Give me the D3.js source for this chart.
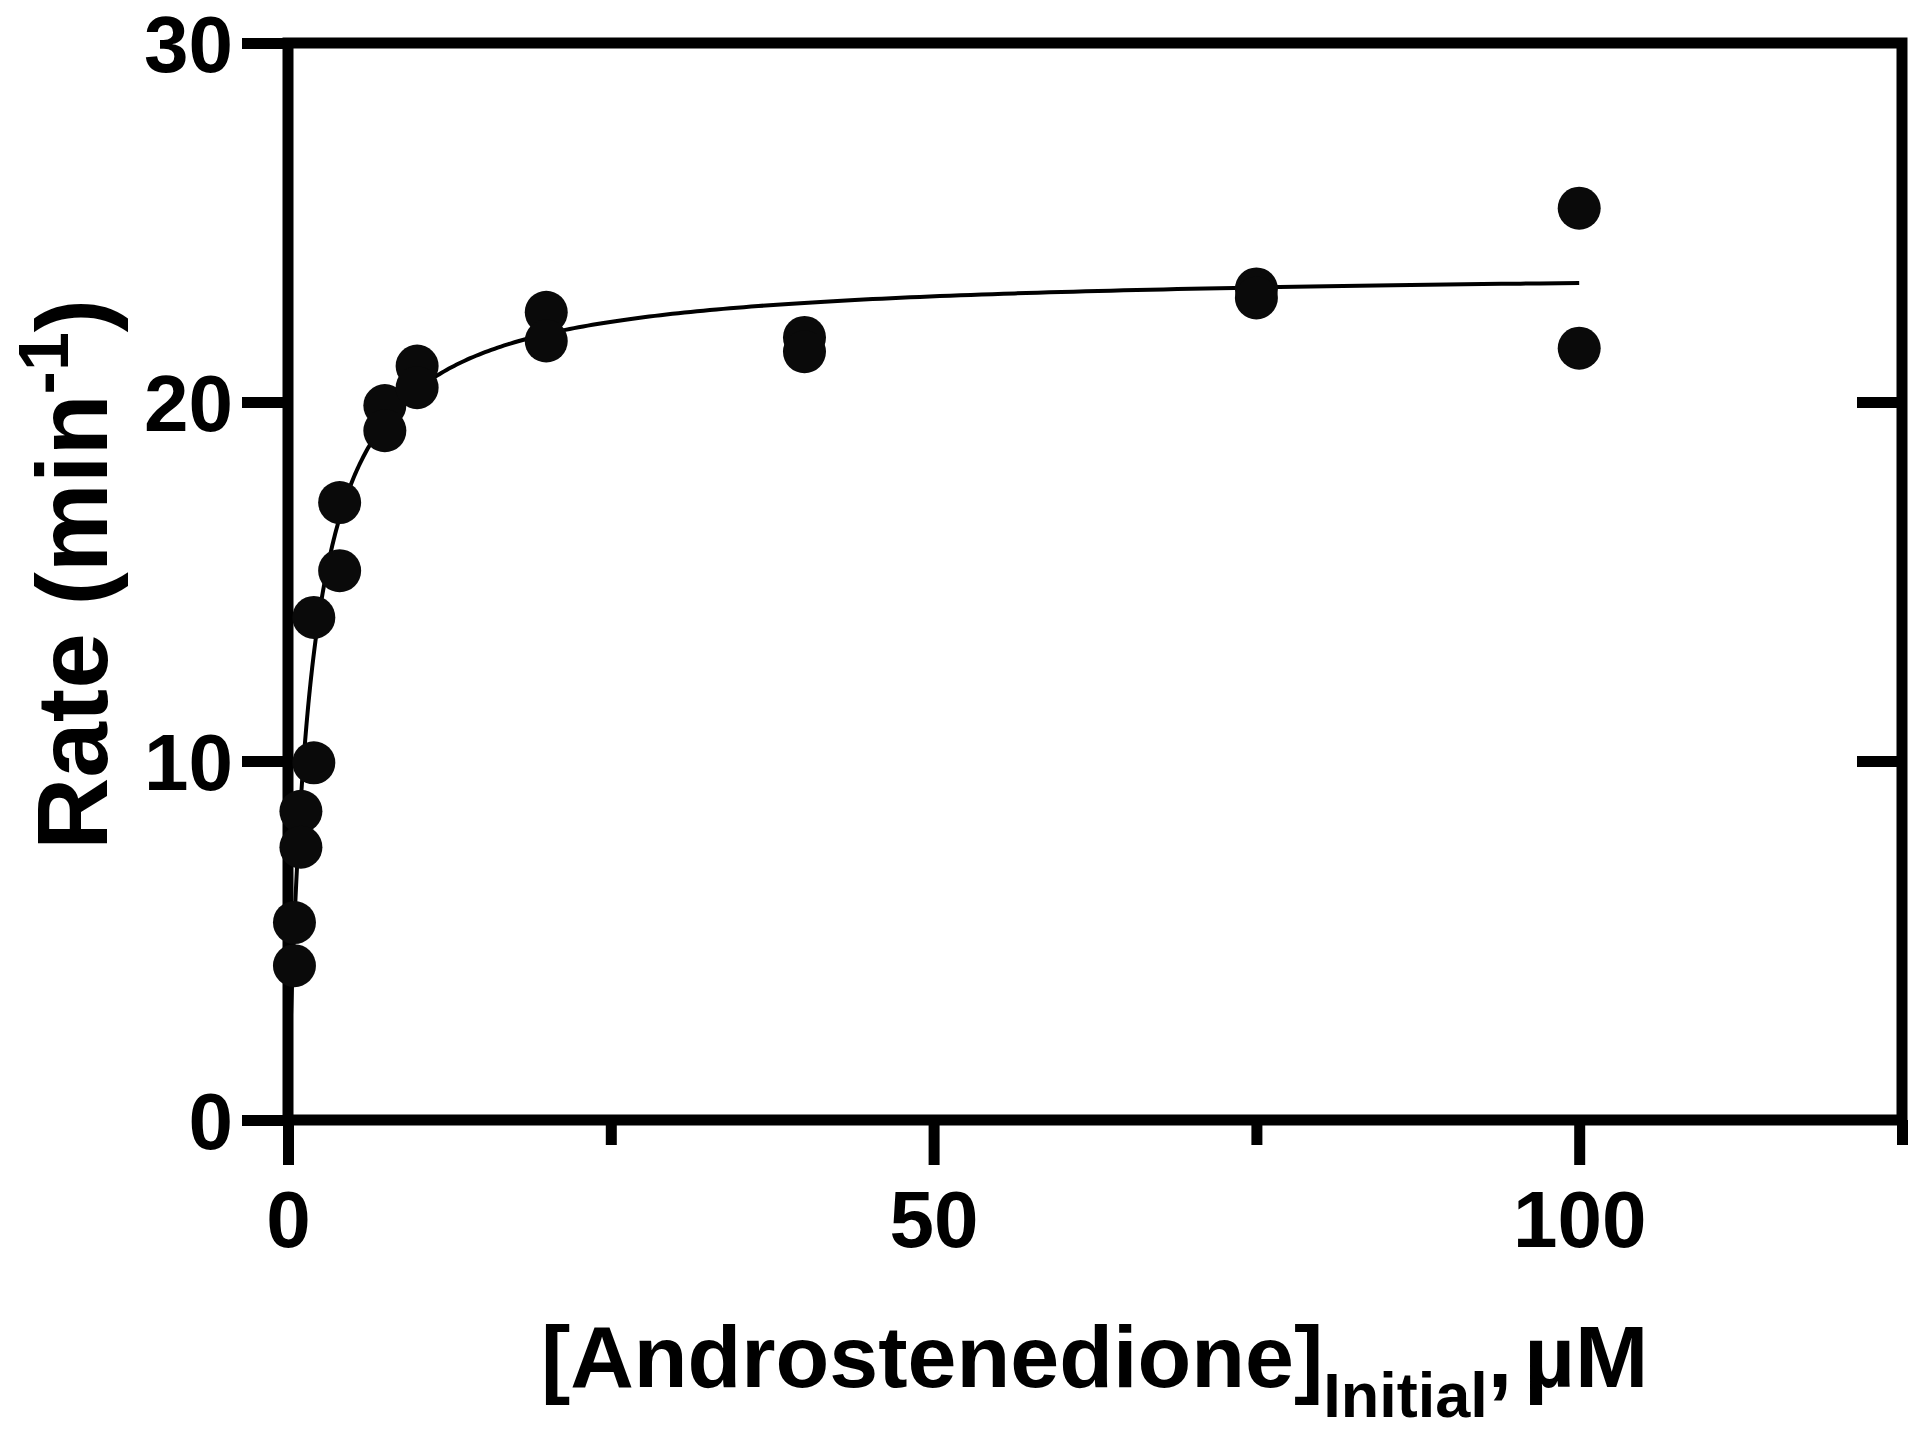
<!DOCTYPE html>
<html>
<head>
<meta charset="utf-8">
<script src="https://cdn.jsdelivr.net/npm/d3@7"></script>
<style>
  body { margin: 0; background: #fff; }
  text { font-family: "Liberation Sans", Arial, sans-serif; font-weight: bold; fill: #000; }
</style>
</head>
<body>
<div id="chart"></div>
<script>
// substrate concentration (uM) and measured rate (min^-1), duplicates
const concentration = [0.5, 0.5, 1, 1, 2, 2, 4, 4, 7.5, 7.5, 10, 10, 20, 20, 40, 40, 75, 75, 100, 100];
const rate = [5.5, 4.3, 8.6, 7.6, 9.95, 14.0, 17.2, 15.3, 19.9, 19.2, 21.0, 20.4, 22.5, 21.7, 21.8, 21.4, 23.15, 22.9, 25.4, 21.5];

// Michaelis-Menten fit parameters
const vmax = 23.7;
const km = 1.65;
const fitRange = [0.2, 100];

const xMajorTicks = [0, 50, 100];
const xMinorTicks = [25, 75, 125];
const yTicks = [0, 10, 20, 30];
const rightTicks = [10, 20];

const width = 1920;
const height = 1430;
const margin = { top: 43, right: 18, bottom: 310, left: 288 };
const innerWidth = width - margin.left - margin.right;
const innerHeight = height - margin.top - margin.bottom;
const axisWidth = 11;

const points = concentration.map((c, i) => ({ x: c, y: rate[i] }));

const xScale = d3.scaleLinear().domain([0, 125]).range([0, innerWidth]);
const yScale = d3.scaleLinear().domain([0, 30]).range([innerHeight, 0]);

const svg = d3.select('#chart')
  .append('svg')
  .attr('width', width)
  .attr('height', height);

const g = svg.append('g')
  .attr('transform', `translate(${margin.left},${margin.top})`);

// fitted curve
const fitX = d3.range(0, 401).map(i => fitRange[0] * Math.pow(fitRange[1] / fitRange[0], i / 400));
const fit = fitX.map(x => ({ x: x, y: vmax * x / (km + x) }));

const line = d3.line()
  .x(d => xScale(d.x))
  .y(d => yScale(d.y));

g.append('path')
  .datum(fit)
  .attr('d', line)
  .style('fill', 'none')
  .style('stroke', '#000')
  .style('stroke-width', 4);

// axes
function styleAxis(sel, labels) {
  sel.select('.domain').remove();
  sel.selectAll('.tick line').style('stroke', '#000').style('stroke-width', axisWidth);
  if (labels) {
    sel.selectAll('.tick text').style('font-size', '80px').style('fill', '#000');
  } else {
    sel.selectAll('.tick text').remove();
  }
}

const yAxis = g.append('g')
  .call(d3.axisLeft(yScale).tickValues(yTicks).tickSize(46).tickPadding(9).tickFormat(d3.format('d')));
styleAxis(yAxis, true);
yAxis.selectAll('.tick text').attr('dy', null).attr('y', 28);

const xAxis = g.append('g')
  .attr('transform', `translate(0,${innerHeight})`)
  .call(d3.axisBottom(xScale).tickValues(xMajorTicks).tickSize(45).tickPadding(22).tickFormat(d3.format('d')));
styleAxis(xAxis, true);
xAxis.selectAll('.tick text').attr('dy', null).attr('y', 127);

const xMinor = g.append('g')
  .attr('transform', `translate(0,${innerHeight})`)
  .call(d3.axisBottom(xScale).tickValues(xMinorTicks).tickSize(25));
styleAxis(xMinor, false);

const rightAxis = g.append('g')
  .attr('transform', `translate(${innerWidth},0)`)
  .call(d3.axisLeft(yScale).tickValues(rightTicks).tickSize(45));
styleAxis(rightAxis, false);

// frame
g.append('path')
  .attr('d', `M${xScale(0)},${yScale(0)}V${yScale(30)}H${xScale(125)}V${yScale(0)}Z`)
  .style('fill', 'none')
  .style('stroke', '#000')
  .style('stroke-width', axisWidth)
  .style('stroke-linejoin', 'miter')
  .style('stroke-linecap', 'square');

// data points
g.selectAll('circle')
  .data(points)
  .join('circle')
  .attr('cx', d => xScale(d.x))
  .attr('cy', d => yScale(d.y))
  .attr('r', 21.5)
  .style('fill', '#0a0a0a');

// axis titles
const xTitle = svg.append('text')
  .attr('x', 541)
  .attr('y', 1387)
  .style('font-size', '88px');
xTitle.append('tspan').text('[Androstenedione]');
xTitle.append('tspan').attr('dy', 30).style('font-size', '63px').text('Initial');
xTitle.append('tspan').attr('dy', -30).text(',');
xTitle.append('tspan').attr('dx', 12).text('\u00b5M');

const yTitle = svg.append('text')
  .attr('transform', 'translate(107,850) rotate(-90)')
  .style('font-size', '100px');
yTitle.append('tspan').text('Rate (min');
yTitle.append('tspan').attr('dy', -39).style('font-size', '70px').text('-1');
yTitle.append('tspan').attr('dy', 39).text(')');
</script>
</body>
</html>
